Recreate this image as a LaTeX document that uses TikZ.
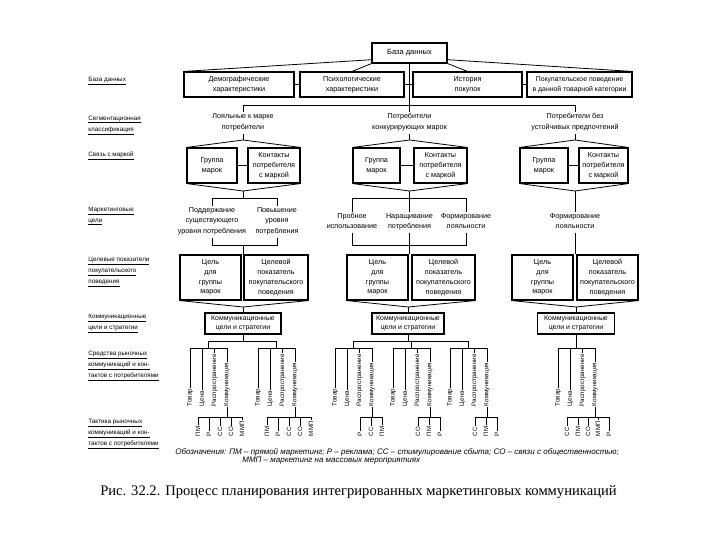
\documentclass[tikz,border=0pt]{standalone}
\usepackage{fontspec}
\setmainfont{Liberation Sans}
\newfontfamily\capfont{Liberation Serif}
\usetikzlibrary{calc}
\newcommand\meanscl[2]{%
  \foreach \i/\t in {0/Товар,1/Цена,2/Распространение,3/Коммуникация}{
    \node[vlab] (#1m\i) at ({#2+12.3*\i},407) {\t};
    \draw (#1m\i.east) -- (#1m\i.east |- cbar);
  }
  \draw (#1m0.east |- cbar) -- (#1m3.east |- cbar);
  \coordinate (#1c) at ({#2+18.45},348);
}
\newcommand\tact[4]{%
  \foreach \x/\t [count=\k] in {#3}{
    \node[tlab] (#1t\k) at (\x,437) {\t};
    \draw (#1t\k.east) -- (#1t\k.east |- tbar);
  }
  \draw (#1t1.east |- tbar) -- (#1t#2.east |- tbar);
  \draw (#4.west) -- (#4.west |- tbar);
}
\begin{document}
\begin{tikzpicture}[x=1pt,y=-1pt,line width=0.8pt,
  box/.style={draw,line width=1.1pt,align=center,inner sep=1pt,font=\fontsize{7.2}{9.8}\selectfont},
  lbl/.style={align=center,inner sep=1pt,font=\fontsize{7.2}{10.5}\selectfont,execute at end node=\strut},
  side/.style={anchor=west,align=left,inner sep=0pt,font=\fontsize{6.3}{11}\selectfont},
  vlab/.style={rotate=90,anchor=west,inner sep=0.6pt,font=\fontsize{6.3}{7}\selectfont},
  tlab/.style={rotate=90,anchor=west,inner sep=0.6pt,font=\fontsize{6.2}{7}\selectfont},
  commbox/.style={box,minimum height=21pt,font=\fontsize{6.9}{9.5}\selectfont}]
\useasboundingbox[fill=white] (0,0) rectangle (720,540);
\coordinate (segbar) at (0,105);
\coordinate (mgtop) at (0,198);
\coordinate (mgbot) at (0,245.5);
\coordinate (mbar) at (0,341);
\coordinate (cbar) at (0,348);
\coordinate (tbar) at (0,417);
% left labels
\node[side] (L1) at (88,81) {\underline{База данных}};
\node[side] (L2) at (88,125) {\underline{Сегментационная}\\\underline{классификация}};
\node[side] (L3) at (88,156) {\underline{Связь с маркой}};
\node[side] (L4) at (88,216) {\underline{Маркетинговые}\\\underline{цели}};
\node[side] (L5) at (88,272) {\underline{Целевые показатели}\\\underline{покупательского}\\\underline{поведения}};
\node[side] (L6) at (88,323) {\underline{Коммуникационные}\\\underline{цели и стратегии}};
\node[side] (L7) at (88,366) {\underline{Средства рыночных}\\\underline{коммуникаций и кон-}\\\underline{тактов с потребителями}};
\node[side] (L8) at (88,434) {\underline{Тактика рыночных}\\\underline{коммуникаций и кон-}\\\underline{тактов с потребителями}};
% database
\node[box,minimum width=75pt,minimum height=20pt,font=\fontsize{7.5}{9}\selectfont] (db) at (409.5,53) {База данных};
\node[box,minimum width=110pt,minimum height=25pt] (demo) at (239,84.5) {Демографические\\характеристики};
\node[box,minimum width=104pt,minimum height=25pt] (psy) at (352,84.5) {Психологические\\характеристики};
\node[box,minimum width=109pt,minimum height=25pt] (hist) at (467.5,84.5) {История\\покупок};
\node[box,minimum width=105pt,minimum height=25pt,font=\fontsize{6.9}{9.8}\selectfont] (beh) at (579.5,84.5) {Покупательское поведение\\в данной товарной категории};
\draw (demo) -- (psy);
\draw (psy) -- (hist);
\draw (hist) -- (beh);
\draw (db.190) -- (demo.north west);
\draw (db.south west) -- (psy.north);
\draw (db.south east) -- (hist.north);
\draw (db.-10) -- (beh.north east);
% segments
\node[lbl] (seg1) at (243,123) {Лояльные к марке\\потребители};
\node[lbl] (seg2) at (409.5,123) {Потребители\\конкурирующих марок};
\node[lbl] (seg3) at (575,123) {Потребители без\\устойчивых предпочтений};
\draw (db.south) -- (seg2.north);
\draw (seg1.north) -- (seg1.north |- segbar) -- (seg3.north |- segbar) -- (seg3.north);
% brand relation
\coordinate (a1) at (243,140);
\coordinate (a2) at (409.5,140);
\coordinate (a3) at (575,140);
\coordinate (b1) at (243,191);
\coordinate (b2) at (409.5,191);
\coordinate (b3) at (575,191);
\node[box,minimum width=50pt,minimum height=35pt] (grp1) at (212,165.5) {Группа\\марок};
\node[box,minimum width=52pt,minimum height=35pt] (con1) at (274,165.5) {Контакты\\потребителя\\с маркой};
\node[box,minimum width=47pt,minimum height=35pt] (grp2) at (376.5,165.5) {Группа\\марок};
\node[box,minimum width=53pt,minimum height=35pt] (con2) at (440.5,165.5) {Контакты\\потребителя\\с маркой};
\node[box,minimum width=48pt,minimum height=35pt] (grp3) at (544,165.5) {Группа\\марок};
\node[box,minimum width=49pt,minimum height=35pt] (con3) at (603.5,165.5) {Контакты\\потребителя\\с маркой};
\foreach \g in {1,2,3}{
  \draw (seg\g.south) -- (a\g);
  \draw (grp\g) -- (con\g);
  \draw (grp\g.north west) -- (a\g) -- (con\g.north east);
  \draw (grp\g.south west) -- (b\g) -- (con\g.south east);
}
% marketing goals
\node[lbl] (mg11) at (212,222) {Поддержание\\существующего\\уровня потребления};
\node[lbl] (mg12) at (277,222) {Повышение\\уровня\\потребления};
\node[lbl] (mg21) at (352,222.5) {Пробное\\использование};
\node[lbl] (mg22) at (409.5,222.5) {Наращивание\\потребления};
\node[lbl] (mg23) at (466,222.5) {Формирование\\лояльности};
\node[lbl] (mg31) at (575,222.5) {Формирование\\лояльности};
% target indicators
\node[box,minimum width=61pt,minimum height=45pt] (tA1) at (210.5,277.5) {Цель\\для\\группы\\марок};
\node[box,minimum width=64pt,minimum height=45pt] (tB1) at (276,277.5) {Целевой\\показатель\\покупательского\\поведения};
\node[box,minimum width=61pt,minimum height=45pt] (tA2) at (377.5,277.5) {Цель\\для\\группы\\марок};
\node[box,minimum width=63pt,minimum height=45pt] (tB2) at (443.5,277.5) {Целевой\\показатель\\покупательского\\поведения};
\node[box,minimum width=61pt,minimum height=45pt] (tA3) at (542.5,277.5) {Цель\\для\\группы\\марок};
\node[box,minimum width=61pt,minimum height=45pt] (tB3) at (607.5,277.5) {Целевой\\показатель\\покупательского\\поведения};
\draw (b1) -- (b1 |- mgtop);
\draw (mg11.north) -- (mg11.north |- mgtop) -- (mg12.north |- mgtop) -- (mg12.north);
\draw (mg11.south) -- (mg11.south |- mgbot) -- (mg12.south |- mgbot) -- (mg12.south);
\draw (b1 |- mgbot) -- (b1 |- tA1.north);
\draw (b2) -- (mg22.north);
\draw (mg21.north) -- (mg21.north |- mgtop) -- (mg23.north |- mgtop) -- (mg23.north);
\draw (mg21.south) -- (mg21.south |- mgbot) -- (mg23.south |- mgbot) -- (mg23.south);
\draw (mg22.south) -- (mg22.south |- tA2.north);
\draw (b3) -- (mg31.north);
\draw (mg31.south) -- (mg31.south |- tA3.north);
% communication goals
\node[commbox,minimum width=76pt] (comm1) at (243,323.5) {Коммуникационные\\цели и стратегии};
\node[commbox,minimum width=72pt] (comm2) at (408,323.5) {Коммуникационные\\цели и стратегии};
\node[commbox,minimum width=77pt] (comm3) at (576,323.5) {Коммуникационные\\цели и стратегии};
\coordinate (c1) at (243,307);
\coordinate (c2) at (408,307);
\coordinate (c3) at (576,307);
\foreach \g in {1,2,3}{
  \draw (tA\g.south west) -- (c\g) -- (tB\g.south east);
  \draw (c\g) -- (comm\g);
}
% means
\meanscl{g1a}{190}
\meanscl{g1b}{258}
\meanscl{g2a}{335}
\meanscl{g2b}{393}
\meanscl{g2c}{450}
\meanscl{g3a}{558}
\draw (comm1.south) -- (comm1.south |- mbar);
\draw (g1ac) -- (g1ac |- mbar) -- (g1bc |- mbar) -- (g1bc);
\draw (comm2.south) -- (comm2.south |- mbar);
\draw (g2ac) -- (g2ac |- mbar) -- (g2cc |- mbar) -- (g2cc);
\draw (g2bc) -- (g2bc |- mbar);
\draw (comm3.south) -- (comm3.south |- g3ac);
% tactics
\tact{g1a}{5}{198/ПМ,209/Р,220/СС,231/СО,242/ММП}{g1am3}
\tact{g1b}{5}{267/ПМ,278/Р,289/СС,300/СО,311/ММП}{g1bm3}
\tact{g2a}{3}{360/Р,371/СС,382/ПМ}{g2am3}
\tact{g2b}{3}{418/СО,429/ПМ,440/Р}{g2bm3}
\tact{g2c}{3}{475/СС,486/ПМ,497/Р}{g2cm3}
\tact{g3a}{5}{567/СС,578/ПМ,588/СО,598/ММП,609/Р}{g3am3}
% legend and caption
\node[anchor=west,inner sep=0pt,font=\itshape\fontsize{8}{9}\selectfont] (leg1) at (175,452) {Обозначения: ПМ – прямой маркетинг; Р – реклама; СС – стимулирование сбыта; СО – связи с общественностью;};
\node[anchor=west,inner sep=0pt,font=\itshape\fontsize{8}{9}\selectfont] (leg2) at (242,461) {ММП – маркетинг на массовых мероприятиях};
\node[inner sep=0pt,font=\capfont\fontsize{14.6}{16}\selectfont] (cap) at (358.5,492) {Рис. 32.2. Процесс планирования интегрированных маркетинговых коммуникаций};
\end{tikzpicture}
\end{document}
